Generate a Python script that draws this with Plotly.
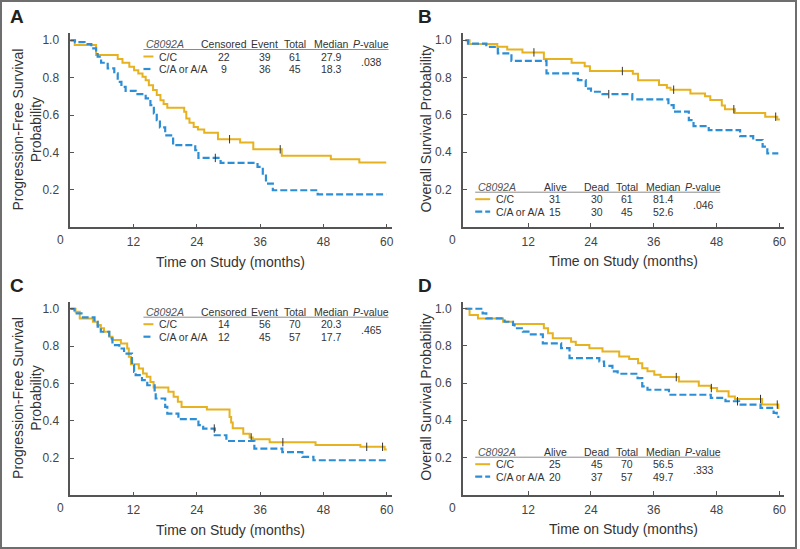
import plotly.graph_objects as go

W, H = 800, 549
GOLD = '#E6B21F'
BLUE = '#2B8ED6'
INK = '#333333'
AXIS_COL = '#555555'
SANS = 'Liberation Sans, Arial, sans-serif'

GROUPS = ['C/C', 'C/A or A/A']
PFS_HEAD = ['Censored', 'Event', 'Total', 'Median', '<i>P</i>-value']
OS_HEAD = ['Alive', 'Dead', 'Total', 'Median', '<i>P</i>-value']
XTICKS = [12, 24, 36, 48, 60]
YTICKS = [0.2, 0.4, 0.6, 0.8, 1.0]
YLABELS = ['0.2', '0.4', '0.6', '0.8', '1.0']

# --- A: PFS, cohort 1
A_CC_T = [0, 0.85, 4.9, 9.0, 9.9, 11.2, 12.1, 12.9, 13.7, 14.3, 14.9, 15.7, 16.4, 17.1, 17.7, 18.4,
          21.6, 22.0, 22.6, 23.4, 24.2, 25.4, 28.0, 32.2, 34.7, 40.1, 49.4, 54.8, 59.9]
A_CC_S = [1.0, 0.975, 0.921, 0.90, 0.88, 0.859, 0.84, 0.823, 0.805, 0.787, 0.76, 0.734, 0.707, 0.68, 0.659, 0.639,
          0.618, 0.582, 0.559, 0.537, 0.523, 0.505, 0.471, 0.453, 0.417, 0.382, 0.364, 0.346, 0.346]
A_AA_T = [0, 0.9, 2.7, 4.0, 4.9, 5.2, 5.85, 7.1, 8.35, 9.0, 9.7, 10.5, 12.4, 14.3, 15.2, 15.85, 16.4, 17.0,
          18.0, 19.5, 23.7, 24.3, 28.5, 35.5, 36.5, 37.1, 38.4, 46.9, 59.9]
A_AA_S = [1.0, 0.99, 0.98, 0.957, 0.926, 0.912, 0.88, 0.85, 0.823, 0.778, 0.751, 0.73, 0.712, 0.689, 0.653, 0.609,
          0.573, 0.534, 0.492, 0.439, 0.412, 0.371, 0.344, 0.323, 0.287, 0.234, 0.198, 0.176, 0.176]
A_CC_CT, A_CC_CS = [30.2, 39.8], [0.471, 0.417]
A_AA_CT, A_AA_CS = [27.5], [0.371]
A_STATS = [['22', '39', '61', '27.9'], ['9', '36', '45', '18.3']]
A_P = '.038'

# --- B: OS, cohort 1
B_CC_T = [0, 0.8, 6.1, 8.0, 10.9, 15.0, 20.3, 22.8, 23.8, 32.0, 33.0, 37.0, 38.5, 39.2, 43.0, 45.8,
          46.8, 49.0, 49.6, 51.5, 57.3, 59.6, 60.1]
B_CC_S = [1.0, 0.98, 0.965, 0.95, 0.935, 0.90, 0.88, 0.86, 0.835, 0.82, 0.785, 0.76, 0.745, 0.735, 0.715, 0.70,
          0.68, 0.65, 0.63, 0.61, 0.59, 0.575, 0.575]
B_AA_T = [0, 0.5, 4.0, 6.2, 8.8, 15.5, 21.5, 23.0, 24.0, 26.2, 31.9, 38.8, 39.8, 42.7, 43.6, 46.5,
          52.5, 55.0, 56.8, 57.7, 59.8]
B_AA_S = [1.0, 0.982, 0.965, 0.93, 0.89, 0.822, 0.786, 0.741, 0.724, 0.711, 0.683, 0.652, 0.617, 0.572, 0.54, 0.518,
          0.486, 0.465, 0.429, 0.393, 0.393]
B_CC_CT, B_CC_CS = [13.1, 30.0, 39.8, 51.3, 59.3], [0.935, 0.835, 0.735, 0.63, 0.59]
B_AA_CT, B_AA_CS = [27.4], [0.711]
B_STATS = [['31', '30', '61', '81.4'], ['15', '30', '45', '52.6']]
B_P = '.046'

# --- C: PFS, cohort 2
C_CC_T = [0, 1.0, 1.8, 4.3, 5.2, 5.8, 6.4, 7.4, 8.0, 9.6, 10.8, 11.1, 11.5, 13.0, 13.8, 14.5, 15.2, 15.8,
          18.6, 19.6, 20.4, 21.1, 25.9, 30.2, 30.5, 30.8, 32.8, 34.0, 34.6, 37.8, 46.5, 55.0, 59.6, 60.0]
C_CC_S = [1.0, 0.984, 0.948, 0.93, 0.913, 0.895, 0.877, 0.85, 0.832, 0.814, 0.787, 0.743, 0.703, 0.68, 0.653, 0.635,
          0.608, 0.578, 0.555, 0.528, 0.501, 0.474, 0.46, 0.42, 0.39, 0.36, 0.33, 0.31, 0.30, 0.285, 0.27, 0.26,
          0.245, 0.245]
C_AA_T = [0, 0.8, 2.4, 4.6, 5.2, 5.8, 7.4, 8.0, 9.3, 10.2, 11.7, 12.1, 12.4, 13.6, 14.6, 16.0, 16.2, 18.0,
          18.4, 20.5, 24.3, 25.2, 27.4, 29.6, 34.9, 40.2, 44.0, 46.1, 60.0]
C_AA_S = [1.0, 0.975, 0.954, 0.93, 0.904, 0.877, 0.841, 0.805, 0.787, 0.76, 0.698, 0.662, 0.644, 0.617, 0.59, 0.555,
          0.519, 0.474, 0.438, 0.408, 0.376, 0.358, 0.322, 0.291, 0.25, 0.232, 0.206, 0.188, 0.188]
C_CC_CT, C_CC_CS = [34.3, 40.3, 56.2, 59.2], [0.31, 0.285, 0.26, 0.26]
C_AA_CT, C_AA_CS = [27.3], [0.358]
C_STATS = [['14', '56', '70', '20.3'], ['12', '45', '57', '17.7']]
C_P = '.465'

# --- D: OS, cohort 2
D_CC_T = [0, 0.8, 2.4, 7.2, 9.1, 15.0, 15.8, 16.7, 20.2, 21.1, 23.7, 26.2, 29.4, 31.3, 33.0, 33.8, 34.8,
          36.1, 37.3, 40.8, 44.6, 46.9, 48.1, 50.3, 51.5, 56.7, 59.8, 60.0]
D_CC_S = [1.0, 0.966, 0.948, 0.93, 0.918, 0.895, 0.868, 0.841, 0.823, 0.805, 0.788, 0.77, 0.743, 0.729, 0.707, 0.68,
          0.663, 0.645, 0.632, 0.609, 0.586, 0.573, 0.556, 0.528, 0.514, 0.484, 0.466, 0.466]
D_AA_T = [0, 3.3, 4.0, 7.5, 9.1, 9.4, 11.0, 12.3, 14.8, 18.3, 19.9, 25.6, 26.5, 28.1, 29.1, 32.9, 33.8, 34.8,
          38.9, 46.9, 49.7, 52.3, 56.4, 58.9, 59.5, 60.0]
D_AA_S = [1.0, 0.975, 0.948, 0.93, 0.913, 0.895, 0.877, 0.862, 0.814, 0.788, 0.734, 0.716, 0.693, 0.663, 0.65, 0.627,
          0.582, 0.564, 0.537, 0.52, 0.502, 0.484, 0.466, 0.439, 0.418, 0.418]
D_CC_CT, D_CC_CS = [40.3, 47.0, 56.4, 59.6], [0.632, 0.573, 0.514, 0.484]
D_AA_CT, D_AA_CS = [52.0], [0.502]
D_STATS = [['25', '45', '70', '56.5'], ['20', '37', '57', '49.7']]
D_P = '.333'


def fx(x):
    return x / W


def fy(y):
    return 1 - y / H


def note(text, x, y, size, anchor='center', **kw):
    # annotation placed by pixel position (from top-left)
    d = dict(text=text, xref='paper', yref='paper', x=fx(x), y=fy(y), xanchor=anchor,
             yanchor='middle', showarrow=False, font=dict(family=SANS, size=size, color=INK))
    d.update(kw)
    return d


PANELS = [
    dict(tag='A', box=(70.5, 393, 33, 227.3), xr=[0, 60.9], yr=[0, 1.039],
         curves=[(A_CC_T, A_CC_S, A_CC_CT, A_CC_CS), (A_AA_T, A_AA_S, A_AA_CT, A_AA_CS)],
         ytitle='Progression-Free Survival<br>Probability', ytx=27,
         head=PFS_HEAD, stats=A_STATS, p=A_P, tab=(144, 44), leg=10),
    dict(tag='B', box=(464.5, 786.5, 33, 226.7), xr=[-0.5, 60.8], yr=[0, 1.039],
         curves=[(B_CC_T, B_CC_S, B_CC_CT, B_CC_CS), (B_AA_T, B_AA_S, B_AA_CT, B_AA_CS)],
         ytitle='Overall Survival Probability', ytx=427.7,
         head=OS_HEAD, stats=B_STATS, p=B_P, tab=(477, 186.7), leg=15),
    dict(tag='C', box=(70.5, 393, 301.7, 495.3), xr=[0, 60.9], yr=[0, 1.038],
         curves=[(C_CC_T, C_CC_S, C_CC_CT, C_CC_CS), (C_AA_T, C_AA_S, C_AA_CT, C_AA_CS)],
         ytitle='Progression-Free Survival<br>Probability', ytx=27,
         head=PFS_HEAD, stats=C_STATS, p=C_P, tab=(144, 311.7), leg=10),
    dict(tag='D', box=(464.5, 786.5, 301.7, 494.5), xr=[-0.5, 60.8], yr=[0, 1.038],
         curves=[(D_CC_T, D_CC_S, D_CC_CT, D_CC_CS), (D_AA_T, D_AA_S, D_AA_CT, D_AA_CS)],
         ytitle='Overall Survival Probability', ytx=427.7,
         head=OS_HEAD, stats=D_STATS, p=D_P, tab=(477, 451.7), leg=15),
]

COL_OFF = [80.5, 121.5, 152.3, 188.6, 228.8]
VAL_OFF = [80.5, 122, 152.5, 188.8]

fig = go.Figure()
annos, shapes = [], []
styles = [dict(color=GOLD, width=2), dict(color=BLUE, width=2.2, dash='7px,3px')]

for i, p in enumerate(PANELS, start=1):
    sfx = '' if i == 1 else str(i)
    x0, x1, y0, y1 = p['box']
    for (t, s, ct, cs), st in zip(p['curves'], styles):
        fig.add_trace(go.Scatter(x=t, y=s, mode='lines', line=dict(shape='hv', **st),
                                 xaxis='x' + sfx, yaxis='y' + sfx, showlegend=False,
                                 hoverinfo='skip'))
        fig.add_trace(go.Scatter(x=ct, y=cs, mode='markers',
                                 marker=dict(symbol='line-ns', size=6, line=dict(width=1, color='#333')),
                                 xaxis='x' + sfx, yaxis='y' + sfx, showlegend=False,
                                 hoverinfo='skip'))
    axis_common = dict(showline=True, linecolor=AXIS_COL, linewidth=1.5, ticks='inside', ticklen=4,
                       tickcolor=AXIS_COL, showgrid=False, zeroline=False,
                       tickfont=dict(family=SANS, size=12, color='#444'))
    fig.layout['xaxis' + sfx] = dict(axis_common, domain=[fx(x0), fx(x1)], range=p['xr'],
                                      anchor='y' + sfx, tickvals=XTICKS, ticklabelstandoff=3)
    fig.layout['yaxis' + sfx] = dict(axis_common, domain=[fy(y1), fy(y0)], range=p['yr'],
                                      anchor='x' + sfx, tickvals=YTICKS, ticktext=YLABELS,
                                      ticklabelstandoff=7)

    # origin label, panel letter, axis titles
    annos.append(dict(text='0', xref='x' + sfx, yref='y' + sfx, x=p['xr'][0], y=0, xshift=-10,
                      yshift=-13, xanchor='center', yanchor='middle', showarrow=False,
                      font=dict(family=SANS, size=12, color='#444')))
    annos.append(note('<b>%s</b>' % p['tag'], 17 if x0 < 200 else 427, y0 - 16.5, 19,
                      font=dict(family=SANS, size=19, color='#222')))
    annos.append(note('Time on Study (months)', (x0 + x1) / 2, y1 + 34.5, 14))
    annos.append(note(p['ytitle'], p['ytx'], (y0 + y1) / 2 - 0.5, 14, textangle=-90))

    # inset table
    L, T = p['tab']
    annos.append(note('<i>C8092A</i>', L + 1, T, 10.5, anchor='left',
                      font=dict(family=SANS, size=10.5, color='#555')))
    for h, off in zip(p['head'], COL_OFF):
        annos.append(note(h, L + off, T, 10.5))
    shapes.append(dict(type='line', xref='paper', yref='paper', x0=fx(L), x1=fx(L + 246),
                       y0=fy(T + 5.5), y1=fy(T + 5.5), line=dict(color='#8a8a8a', width=1)))
    for r, (grp, vals, st) in enumerate(zip(GROUPS, p['stats'], styles)):
        ry = T + 12.5 + 12.5 * r
        shapes.append(dict(type='line', xref='paper', yref='paper', x0=fx(L), x1=fx(L + p['leg']),
                           y0=fy(ry), y1=fy(ry), line=st))
        annos.append(note(grp, L + p['leg'] + 3.5, ry, 10.5, anchor='left'))
        for v, off in zip(vals, VAL_OFF):
            annos.append(note(v, L + off, ry, 10.5))
    annos.append(note(p['p'], L + COL_OFF[-1], T + 18, 10.5))

# outer frame
shapes.append(dict(type='rect', xref='paper', yref='paper', x0=fx(1), x1=fx(W - 1), y0=fy(H - 1),
                   y1=fy(1), line=dict(color='#6e6e6e', width=2)))

fig.update_layout(width=W, height=H, margin=dict(l=0, r=0, t=0, b=0),
                  paper_bgcolor='white', plot_bgcolor='white',
                  annotations=annos, shapes=shapes, showlegend=False)

fig.write_html('out.html', config={'displayModeBar': False},
               post_script="document.body.style.margin='0';")
